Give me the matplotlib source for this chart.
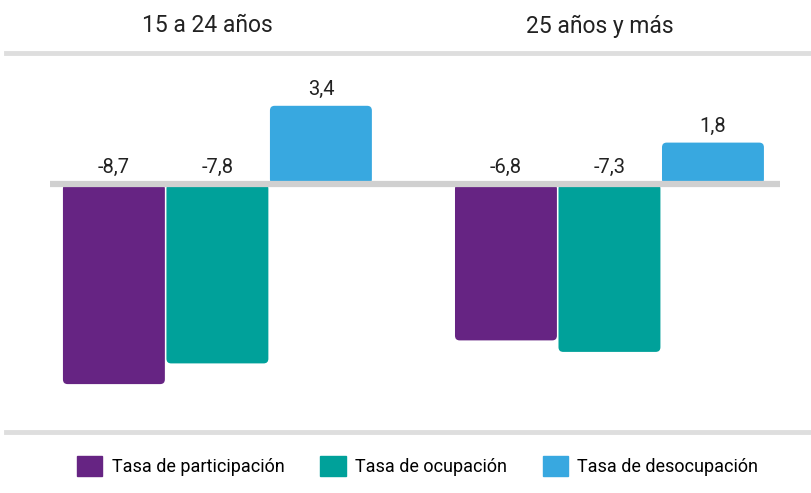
import matplotlib.pyplot as plt
import numpy as np
from matplotlib.patches import FancyBboxPatch
from matplotlib.lines import Line2D

plt.rcParams['font.family'] = ['Roboto', 'DejaVu Sans']

# Datos
grupos = ['15 a 24 años', '25 años y más']
series = ['Tasa de participación', 'Tasa de ocupación', 'Tasa de desocupación']
participacion = [-8.7, -6.8]
ocupacion = [-7.8, -7.3]
desocupacion = [3.4, 1.8]
colores = ['#662483', '#00A19A', '#38A8E0']

valores = [participacion, ocupacion, desocupacion]

W, H = 811, 493
fig = plt.figure(figsize=(W / 100, H / 100), dpi=100)
ax = fig.add_axes([50 / W, (H - 425) / H, 730 / W, 365 / H])

x = np.arange(len(grupos))
width = 0.264

# escala: ~392 px entre grupos, ~23 px por punto
px_x = 392.0
px_y = 23.0
ax.set_xlim(-0.427, 1.435)
ax.set_ylim(-(425 - 184) / px_y, (184 - 60) / px_y)
rad = 0.012

for j, (serie, vals) in enumerate(zip(series, valores)):
    offset = (j - 1) * width
    bars = ax.bar(x + offset, vals, width, color=colores[j], label=serie)
    for b in bars:
        b.set_visible(False)
        bx, by = b.get_x(), b.get_y()
        bw, bh = b.get_width(), b.get_height()
        y0, alto = min(by, by + bh), abs(bh)
        p = FancyBboxPatch((bx + 0.002, y0), bw - 0.004, alto,
                           boxstyle=f'round,pad=0,rounding_size={rad}',
                           mutation_aspect=px_x / px_y,
                           facecolor=colores[j], edgecolor='none', zorder=2)
        ax.add_patch(p)
    for xi, v in zip(x + offset, vals):
        txt = f'{v:.1f}'.replace('.', ',')
        base = v if v >= 0 else 0
        ax.annotate(txt, (xi, base), xytext=(0, 5), textcoords='offset points',
                    ha='center', va='bottom', fontsize=14.5, color='#222222')

ax.axhline(0, color='#d0d0d0', linewidth=4.5, zorder=3)
ax.axis('off')

# títulos de grupo
for xi, g in zip(x, grupos):
    ax.text(xi - 0.025, 1 + (60 - 26) / 365, g, transform=ax.get_xaxis_transform(),
            ha='center', va='center', fontsize=16.5, color='#222222')

# separadores
for yp in (53, 432):
    fig.add_artist(Line2D([6 / W, 1], [1 - yp / H, 1 - yp / H],
                          color='#dedede', linewidth=3.5))

handles = [plt.Rectangle((0, 0), 1, 1, color=c) for c in colores]
fig.legend(handles, series, loc='center', bbox_to_anchor=(0.515, 1 - 466 / H),
           ncol=3, frameon=False, fontsize=13, handlelength=1.4, handleheight=1.4,
           handletextpad=0.5, columnspacing=2.0)

fig.savefig('out.png', dpi=100)
